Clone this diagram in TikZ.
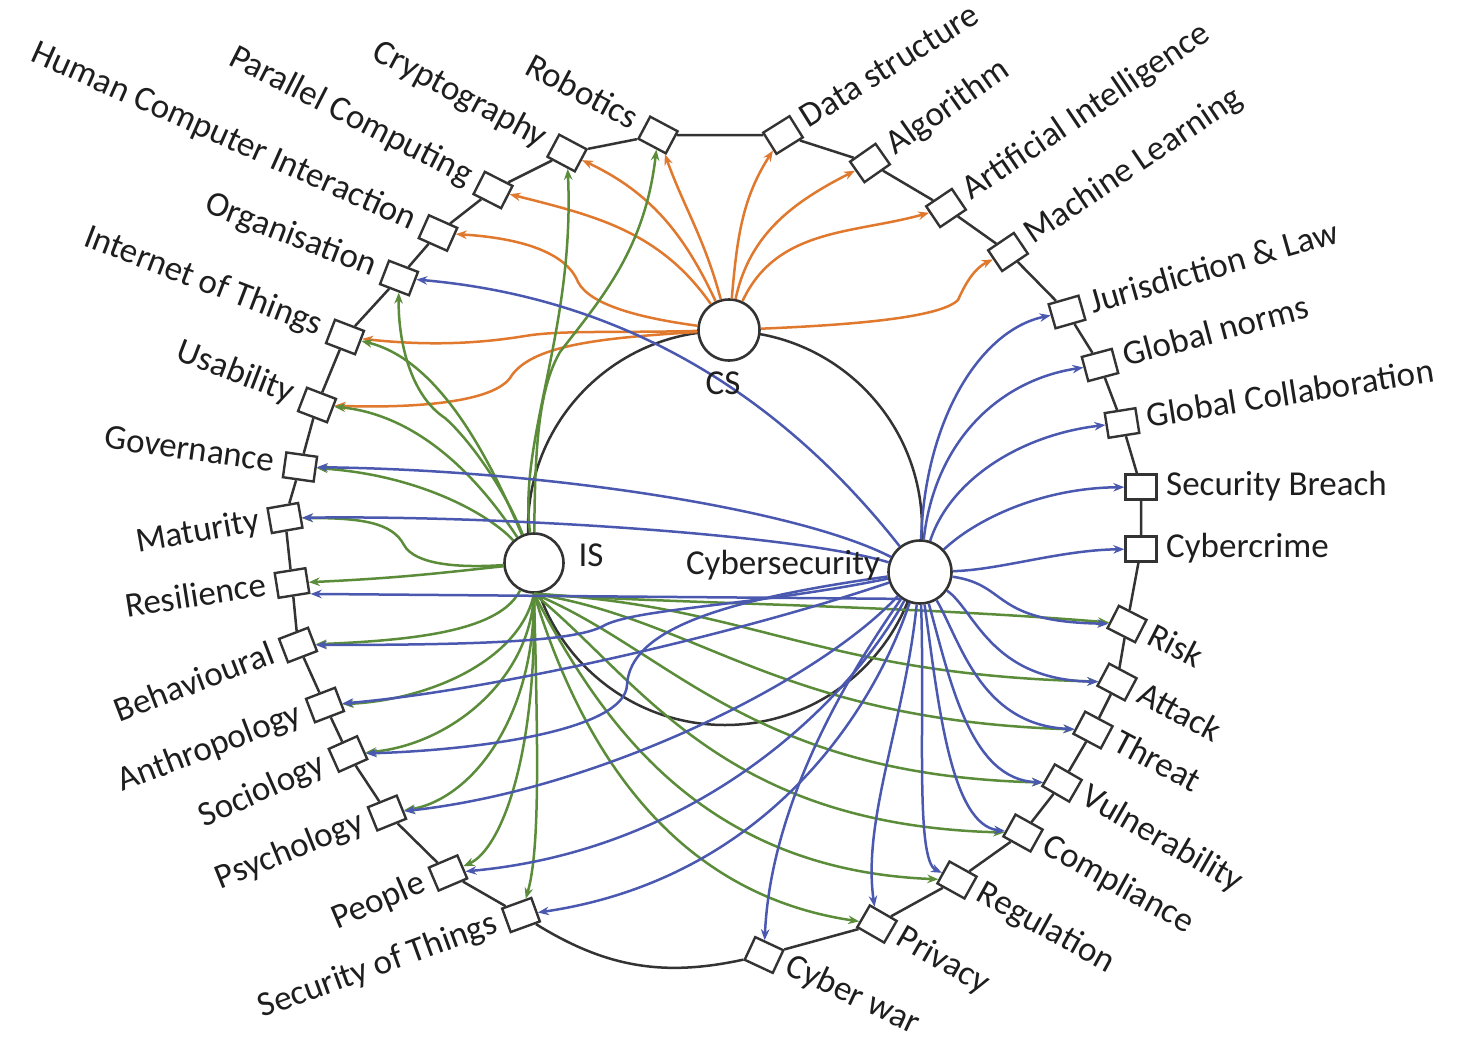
\documentclass[tikz,border=0pt]{standalone}
\usepackage{fontspec}
\setmainfont{Carlito}
\usetikzlibrary{arrows.meta}
\definecolor{csorange}{HTML}{E0782E}
\definecolor{isgreen}{HTML}{5B8C3A}
\definecolor{cyblue}{HTML}{4A58B0}
\definecolor{ringgray}{HTML}{333333}
\definecolor{txt}{HTML}{1E1E1E}
\begin{document}
\begin{tikzpicture}[x=1pt,y=1pt,
  sq/.style={draw=ringgray, fill=white, line width=2.4pt, minimum width=31pt, minimum height=25pt, inner sep=0pt},
  hub/.style={circle, draw=ringgray, fill=white, line width=2.6pt, inner sep=0pt},
  lbl/.style={text=txt, font=\fontsize{35}{40}\selectfont, inner sep=0pt, text height=24pt, text depth=7pt},
  ring/.style={draw=ringgray, line width=2.5pt},
  lnk/.style={line width=2.5pt, -{Stealth[length=11pt,width=8.5pt]}},
  oe/.style={lnk, draw=csorange},
  ge/.style={lnk, draw=isgreen},
  be/.style={lnk, draw=cyblue}]

\fill[white] (0,0) rectangle (1478,-1039);
\useasboundingbox (0,0) rectangle (1478,-1039);

% inner circle joining the three hubs
\draw[ring] (725,-528) circle (197);

% topic boxes on the left half, labels ending at the box
\foreach \n/\x/\y/\a/\lab in {
  rob/658/135/-28/Robotics,
  cry/567/153/-28/Cryptography,
  par/493/190/-27/Parallel Computing,
  hci/438/233/-24/Human Computer Interaction,
  org/399/278/-21/Organisation,
  iot/345/337/-21/Internet of Things,
  usa/317/405/-21/Usability,
  gov/300/467/-8/Governance,
  mat/285/518/10/Maturity,
  res/292/583/9/Resilience,
  beh/298/645/21/Behavioural,
  ant/325/705/21/Anthropology,
  soc/348/754/24/Sociology,
  psy/387/813/22/Psychology,
  peo/448/873/23/People,
  sot/521/915/20/Security of Things}{
  \node[sq, rotate=\a] (\n) at (\x,-\y) {};
  \node[lbl, rotate=\a, anchor=east] (\n-t) at ([shift={({\a+180}:26)}]\n.center) {\lab};
}

% topic boxes on the right half, labels starting at the box
\foreach \n/\x/\y/\a/\lab in {
  ds/783/135/32/Data structure,
  alg/870/163/35/Algorithm,
  ai/946/208/34/Artificial Intelligence,
  ml/1008/252/34/Machine Learning,
  jur/1067/312/16/Jurisdiction \& Law,
  gno/1100/365/15/Global norms,
  gco/1122/423/9/Global Collaboration,
  sbr/1141/487/0/Security Breach,
  ccr/1141/549/0/Cybercrime,
  risk/1127/624/-27/Risk,
  att/1117/682/-28/Attack,
  thr/1093/730/-28/Threat,
  vul/1062/783/-30/Vulnerability,
  com/1023/833/-29/Compliance,
  reg/957/880/-29/Regulation,
  pri/877/924/-30/Privacy,
  cwa/764/955/-25/Cyber war}{
  \node[sq, rotate=\a] (\n) at (\x,-\y) {};
  \node[lbl, rotate=\a, anchor=west] (\n-t) at ([shift={(\a:25)}]\n.center) {\lab};
}

% outer ring through the boxes
\draw[ring] (rob) -- (ds) -- (alg) -- (ai) -- (ml) -- (jur) -- (gno) -- (gco)
  -- (sbr) -- (ccr) -- (risk) -- (att) -- (thr) -- (vul) -- (com) -- (reg)
  -- (pri) -- (cwa);
\draw[ring] (cwa) to[bend left=22] (sot);
\draw[ring] (sot) -- (peo) -- (psy) -- (soc) -- (ant) -- (beh) -- (res) -- (mat)
  -- (gov) -- (usa) -- (iot) -- (org) -- (hci) -- (par) -- (cry) -- (rob);

% hubs
\node[hub, minimum size=61pt] (CS) at (729,-330) {};
\node[hub, minimum size=59pt] (IS) at (534,-563) {};
\node[hub, minimum size=63pt] (CY) at (920,-572) {};

% CS links
\draw[oe] (CS) to[out=105,in=-65] (rob);
\draw[oe] (CS) to[out=115,in=-20] (cry);
\draw[oe] (CS) to[out=125,in=-10] (par);
\draw[oe] (CS) .. controls (640,-318) and (590,-305) .. (578,-282) .. controls (566,-252) and (520,-238) .. (hci);
\draw[oe] (CS) .. controls (620,-333) and (560,-330) .. (525,-336) .. controls (470,-345) and (420,-345) .. (iot);
\draw[oe] (CS) .. controls (600,-338) and (530,-345) .. (510,-378) .. controls (490,-405) and (400,-408) .. (usa);
\draw[oe] (CS) to[out=85,in=-130] (ds);
\draw[oe] (CS) to[out=78,in=-160] (alg);
\draw[oe] (CS) to[out=65,in=-170] (ai);
\draw[oe] (CS) .. controls (850,-325) and (940,-318) .. (958,-300) .. controls (966,-282) and (975,-268) .. (ml);

% IS links
\draw[ge] (IS) .. controls (535,-450) and (538,-390) .. (560,-352) .. controls (600,-300) and (645,-250) .. (rob);
\draw[ge] (IS) .. controls (518,-440) and (575,-330) .. (cry);
\draw[ge] (IS) .. controls (505,-490) and (470,-440) .. (445,-418) .. controls (410,-395) and (398,-340) .. (org);
\draw[ge] (IS) .. controls (490,-460) and (440,-360) .. (iot);
\draw[ge] (IS) .. controls (480,-480) and (420,-415) .. (usa);
\draw[ge] (IS) .. controls (490,-515) and (420,-475) .. (gov);
\draw[ge] (IS) .. controls (460,-568) and (415,-565) .. (404,-545) .. controls (392,-522) and (360,-518) .. (mat);
\draw[ge] (IS) .. controls (440,-573) and (400,-578) .. (res);
\draw[ge] (IS) .. controls (500,-630) and (420,-640) .. (beh);
\draw[ge] (IS.south) .. controls (520,-660) and (430,-700) .. (ant);
\draw[ge] (IS.south) .. controls (530,-680) and (450,-745) .. (soc);
\draw[ge] (IS.south) .. controls (535,-720) and (470,-800) .. (psy);
\draw[ge] (IS.south) .. controls (537,-760) and (500,-850) .. (peo);
\draw[ge] (IS.south) .. controls (538,-750) and (540,-850) .. (sot);
\draw[ge] (IS.south) .. controls (650,-603) and (900,-605) .. (risk);
\draw[ge] (IS.south) .. controls (750,-605) and (820,-675) .. (att);
\draw[ge] (IS.south) .. controls (700,-620) and (780,-720) .. (thr);
\draw[ge] (IS.south) .. controls (670,-650) and (750,-775) .. (vul);
\draw[ge] (IS.south) .. controls (640,-680) and (720,-825) .. (com);
\draw[ge] (IS.south) .. controls (600,-720) and (700,-870) .. (reg);
\draw[ge] (IS.south) .. controls (585,-760) and (680,-895) .. (pri);

% Cybersecurity links
\draw[be] (CY) .. controls (925,-420) and (980,-330) .. (jur);
\draw[be] (CY) .. controls (935,-440) and (1000,-380) .. (gno);
\draw[be] (CY) .. controls (950,-480) and (1020,-435) .. (gco);
\draw[be] (CY) .. controls (975,-520) and (1040,-488) .. (sbr);
\draw[be] (CY) .. controls (1000,-570) and (1060,-550) .. (ccr);
\draw[be] (CY) .. controls (1010,-585) and (990,-622) .. (risk);
\draw[be] (CY) .. controls (975,-610) and (990,-680) .. (att);
\draw[be] (CY) .. controls (960,-640) and (980,-725) .. (thr);
\draw[be] (CY) .. controls (950,-680) and (970,-780) .. (vul);
\draw[be] (CY) .. controls (938,-700) and (950,-825) .. (com);
\draw[be] (CY) .. controls (925,-720) and (915,-860) .. (reg);
\draw[be] (CY) .. controls (905,-720) and (862,-820) .. (pri);
\draw[be] (CY) .. controls (830,-700) and (770,-820) .. (cwa);
\draw[be] (CY) .. controls (870,-720) and (760,-880) .. (sot);
\draw[be] (CY) .. controls (850,-700) and (700,-850) .. (peo);
\draw[be] (CY) .. controls (820,-680) and (600,-790) .. (psy);
\draw[be] (CY) .. controls (720,-600) and (630,-630) .. (627,-685) .. controls (625,-730) and (480,-750) .. (soc);
\draw[be] (CY) .. controls (750,-630) and (500,-690) .. (ant);
\draw[be] (CY) .. controls (760,-605) and (640,-608) .. (605,-625) .. controls (580,-640) and (500,-645) .. (beh);
\draw[be] (CY.-125) -- (res.south east);
\draw[be] (CY) .. controls (800,-535) and (500,-515) .. (mat);
\draw[be] (CY) .. controls (800,-510) and (550,-470) .. (gov);
\draw[be] (CY) .. controls (800,-420) and (650,-300) .. (org);

% hub captions
\node[lbl] (CS-t) at (723,-386) {CS};
\node[lbl] (IS-t) at (591,-558) {IS};
\node[lbl] (CY-t) at (783,-566) {Cybersecurity};
\end{tikzpicture}
\end{document}
